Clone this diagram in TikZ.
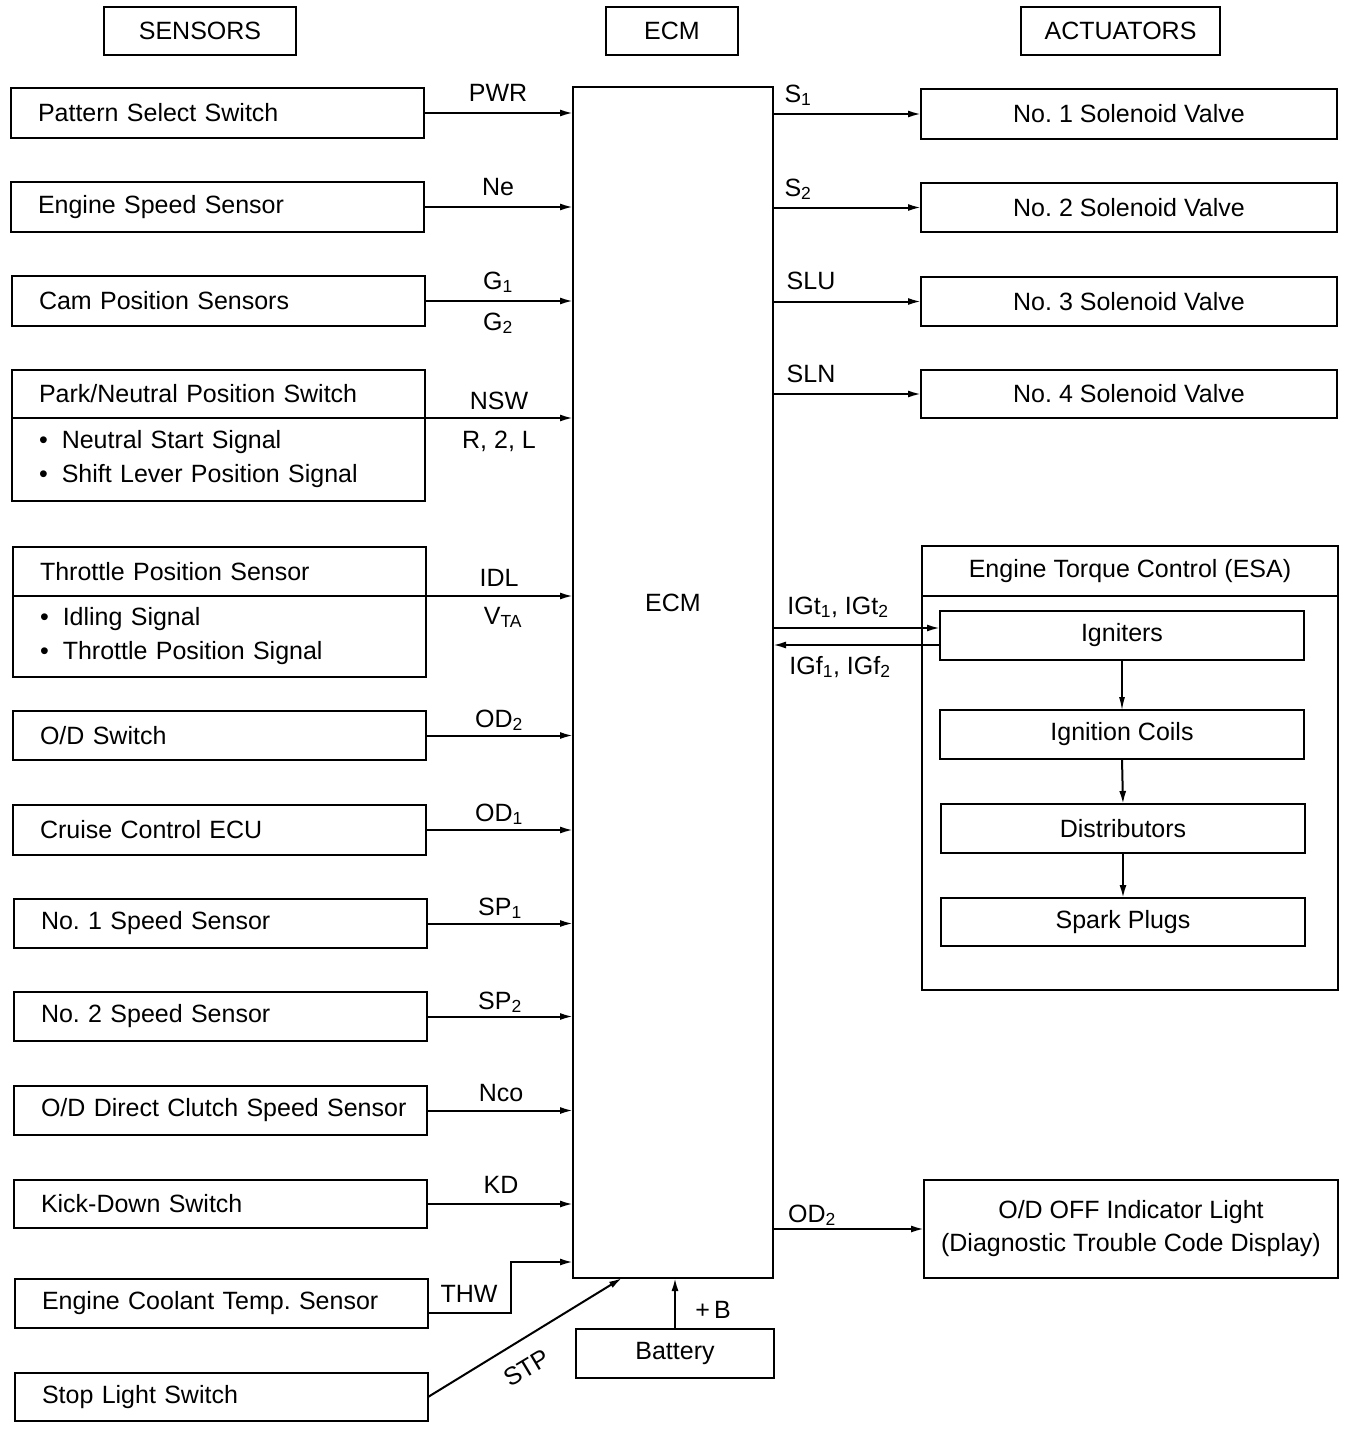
\documentclass[tikz,border=0pt]{standalone}
\usepackage{fontspec}
\setmainfont{Liberation Sans}
\usetikzlibrary{arrows.meta}
\newcommand\mysub[1]{\textsubscript{#1}}
\frenchspacing
\begin{document}
\begin{tikzpicture}[x=1pt,y=-1pt,
  font=\fontsize{25}{30}\selectfont,
  box/.style={draw, line width=2pt, rectangle, inner sep=0pt, outer sep=0pt},
  sbox/.style={box, minimum width=413pt, minimum height=50pt, text width=359pt, inner xsep=27pt, align=left, anchor=north west},
  bbox/.style={sbox, font=\fontsize{25}{34}\selectfont},
  abox/.style={box, minimum width=416pt, minimum height=49pt, anchor=north west},
  ibox/.style={box, minimum width=364pt, minimum height=49pt, anchor=north west},
  hbox/.style={box, minimum height=48pt},
  lbl/.style={inner sep=0pt, anchor=base},
  arr/.style={line width=2pt, -{Latex[length=13pt,width=7pt]}},
  thinarr/.style={line width=1.2pt, -{Latex[length=13pt,width=6pt]}}
]
\useasboundingbox (0,0) rectangle (1360,1430);

% headers
\node[hbox, minimum width=192pt] (hs) at (200,31) {SENSORS};
\node[hbox, minimum width=132pt] (he) at (672,31) {ECM};
\node[hbox, minimum width=199pt] (ha) at (1120.5,31) {ACTUATORS};

% ECM
\node[box, minimum width=200pt, minimum height=1191pt, anchor=north west] (ecm) at (573,87) {};
\node[inner sep=0pt] (ecmlbl) at (673,603) {ECM};

% sensors
\node[sbox] (s1) at (11,88) {Pattern Select Switch};
\node[sbox] (s2) at (11,182) {Engine Speed Sensor};
\node[sbox] (s3) at (12,276) {Cam Position Sensors};
\node[sbox, minimum height=48pt] (s4t) at (12,370) {Park/Neutral Position Switch};
\node[bbox, minimum height=83pt] (s4b) at (12,418) {\textbullet\hspace{14pt}Neutral Start Signal\\\textbullet\hspace{14pt}Shift Lever Position Signal};
\node[sbox, minimum height=49pt] (s5t) at (13,547) {Throttle Position Sensor};
\node[bbox, minimum height=81pt] (s5b) at (13,596) {\textbullet\hspace{14pt}Idling Signal\\\textbullet\hspace{14pt}Throttle Position Signal};
\node[sbox, minimum height=49pt] (s6) at (13,711) {O/D Switch};
\node[sbox] (s7) at (13,805) {Cruise Control ECU};
\node[sbox, minimum height=49pt] (s8) at (14,899) {No. 1 Speed Sensor};
\node[sbox, minimum height=49pt] (s9) at (14,992) {No. 2 Speed Sensor};
\node[sbox, minimum height=49pt] (s10) at (14,1086) {\mbox{O/D Direct Clutch Speed Sensor}};
\node[sbox, minimum height=48pt] (s11) at (14,1180) {Kick-Down Switch};
\node[sbox, minimum height=49pt] (s12) at (15,1279) {Engine Coolant Temp. Sensor};
\node[sbox, minimum height=48pt] (s13) at (15,1373) {Stop Light Switch};

% battery
\node[box, minimum width=198pt, minimum height=49pt, anchor=north west] (bat) at (576,1329) {Battery};

% actuators
\node[abox, minimum height=50pt] (a1) at (921,89) {No. 1 Solenoid Valve};
\node[abox] (a2) at (921,183) {No. 2 Solenoid Valve};
\node[abox] (a3) at (921,277) {No. 3 Solenoid Valve};
\node[abox, minimum height=48pt] (a4) at (921,370) {No. 4 Solenoid Valve};

% ESA group
\node[box, minimum width=416pt, minimum height=444pt, anchor=north west] (esa) at (922,546) {};
\node[box, minimum width=416pt, minimum height=50pt, anchor=north west] (esat) at (922,546) {Engine Torque Control (ESA)};
\node[ibox] (ign) at (940,611) {Igniters};
\node[ibox] (coil) at (940,710) {Ignition Coils};
\node[ibox] (dist) at (941,804) {Distributors};
\node[ibox, minimum height=48pt] (spark) at (941,898) {Spark Plugs};

% O/D OFF
\node[box, minimum width=414pt, minimum height=98pt, anchor=north west, align=center, font=\fontsize{25}{33}\selectfont] (odl) at (924,1180) {O/D OFF Indicator Light\\(Diagnostic Trouble Code Display)};

% helper coordinates
\coordinate (yigt) at (0,628);
\coordinate (yigf) at (0,645);
\coordinate (ythw) at (0,1313);
\coordinate (ythwin) at (0,1262);
\coordinate (stpin) at (622,1278);

% sensor connectors
\draw[arr] (s1.east) -- (s1.east -| ecm.west);
\draw[arr] (s2.east) -- (s2.east -| ecm.west);
\draw[arr] (s3.east) -- (s3.east -| ecm.west);
\draw[arr] (s4t.south east) -- (s4t.south east -| ecm.west);
\draw[arr] (s5t.south east) -- (s5t.south east -| ecm.west);
\draw[arr] (s6.east) -- (s6.east -| ecm.west);
\draw[arr] (s7.east) -- (s7.east -| ecm.west);
\draw[arr] (s8.east) -- (s8.east -| ecm.west);
\draw[arr] (s9.east) -- (s9.east -| ecm.west);
\draw[arr] (s10.east) -- (s10.east -| ecm.west);
\draw[arr] (s11.east) -- (s11.east -| ecm.west);
\draw[arr] (s12.east |- ythw) -- ++(83,0) |- (ecm.west |- ythwin);
\draw[arr] (s13.east) -- (stpin);
\draw[arr] (bat.north) -- (bat.north |- ecm.south);

% actuator connectors
\draw[arr] (a1.west -| ecm.east) -- (a1.west);
\draw[arr] (a2.west -| ecm.east) -- (a2.west);
\draw[arr] (a3.west -| ecm.east) -- (a3.west);
\draw[arr] (a4.west -| ecm.east) -- (a4.west);
\draw[arr] (ecm.east |- yigt) -- (ign.west |- yigt);
\draw[arr] (ign.west |- yigf) -- (ecm.east |- yigf);
\draw[thinarr] (ign.south) -- (coil.north);
\draw[arr] (coil.south) -- (dist.north);
\draw[arr] (dist.south) -- (spark.north);
\draw[arr] (ecm.east |- odl.west) -- (odl.west);

% signal labels
\node[lbl] (lpwr) at (498,101) {PWR};
\node[lbl] (lne) at (498,195) {Ne};
\node[lbl] (lg1) at (498,289) {G\mysub{1}};
\node[lbl] (lg2) at (498,330) {G\mysub{2}};
\node[lbl] (lnsw) at (499,409) {NSW};
\node[lbl] (lr2l) at (499,448) {R, 2, L};
\node[lbl] (lidl) at (499,586) {IDL};
\node[lbl] (lvta) at (503,624) {V\mysub{TA}};
\node[lbl] (lod2) at (499,727) {OD\mysub{2}};
\node[lbl] (lod1) at (499,821) {OD\mysub{1}};
\node[lbl] (lsp1) at (500,915) {SP\mysub{1}};
\node[lbl] (lsp2) at (500,1009) {SP\mysub{2}};
\node[lbl] (lnco) at (501,1101) {Nco};
\node[lbl] (lkd) at (501,1193) {KD};
\node[lbl] (lthw) at (469,1302) {THW};
\node[inner sep=0pt, rotate=31] (lstp) at (527,1368) {STP};
\node[lbl] (lb) at (713,1318) {+\,B};
\node[lbl] (ls1) at (798,102) {S\mysub{1}};
\node[lbl] (ls2) at (798,196) {S\mysub{2}};
\node[lbl] (lslu) at (811,289) {SLU};
\node[lbl] (lsln) at (811,382) {SLN};
\node[lbl] (ligt) at (838,614) {IGt\mysub{1}, IGt\mysub{2}};
\node[lbl] (ligf) at (840,674) {IGf\mysub{1}, IGf\mysub{2}};
\node[lbl] (lodr) at (812,1222) {OD\mysub{2}};
\end{tikzpicture}
\end{document}
